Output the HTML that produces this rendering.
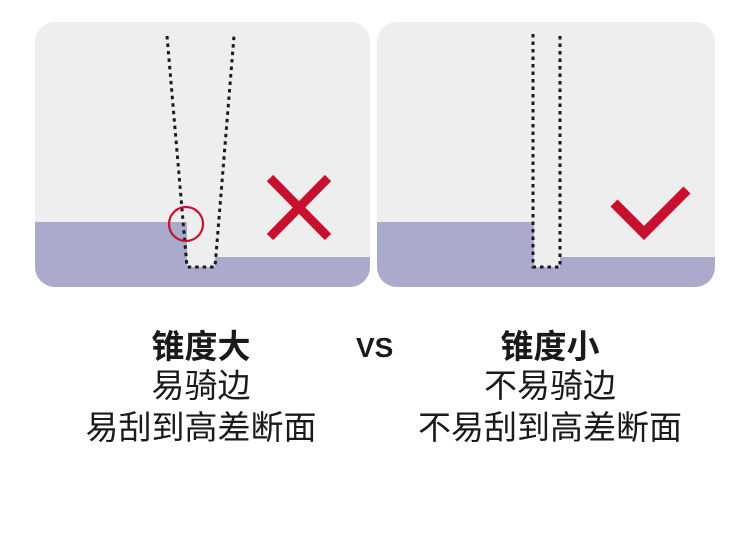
<!DOCTYPE html>
<html><head><meta charset="utf-8"><style>
body{margin:0;width:750px;height:540px;background:#fff;overflow:hidden;position:relative;font-family:"Liberation Sans","Noto Sans CJK SC",sans-serif;color:#1a1a1a}
.t{position:absolute;width:400px;text-align:center;font-size:33px;line-height:40px}
</style></head><body>
<svg width="750" height="300" style="position:absolute;left:0;top:0">
<defs>
<clipPath id="c1"><rect x="35" y="22" width="335" height="265" rx="20"/></clipPath>
<clipPath id="c2"><rect x="377" y="22" width="338" height="265" rx="20"/></clipPath>
</defs>
<g clip-path="url(#c1)">
<rect x="35" y="22" width="335" height="265" fill="#eeeeee"/>
<rect x="35" y="222" width="153" height="70" fill="#aaaacd"/>
<rect x="188" y="257" width="190" height="40" fill="#aaaacd"/>
<polygon points="187,222 215,222 215,267 187,267" fill="#eeeeee"/>
</g>
<polyline points="167,36 187,267 215,267 234,36" fill="none" stroke="#1a1a1a" stroke-width="3" stroke-dasharray="3.5,4"/>
<circle cx="186" cy="224" r="17" fill="none" stroke="#c8102e" stroke-width="2.2"/>
<path d="M270,178 L328,237 M328,178 L270,237" stroke="#c8102e" stroke-width="9"/>
<g clip-path="url(#c2)">
<rect x="377" y="22" width="338" height="265" fill="#eeeeee"/>
<rect x="377" y="222" width="157" height="70" fill="#aaaacd"/>
<rect x="534" y="257" width="190" height="40" fill="#aaaacd"/>
<rect x="534" y="222" width="26" height="45" fill="#eeeeee"/>
</g>
<polyline points="533,34 533,267 560,267 560,34" fill="none" stroke="#1a1a1a" stroke-width="3" stroke-dasharray="3.5,4"/>
<polyline points="614,203 644,233 687,190" fill="none" stroke="#c8102e" stroke-width="10"/>
</svg>
<div class="t" style="left:1px;top:327px;font-weight:bold">锥度大</div>
<div class="t" style="left:1px;top:366px">易骑边</div>
<div class="t" style="left:1px;top:408px">易刮到高差断面</div>
<div class="t" style="left:350px;top:327px;font-weight:bold">锥度小</div>
<div class="t" style="left:350px;top:366px">不易骑边</div>
<div class="t" style="left:350px;top:408px">不易刮到高差断面</div>
<div style="position:absolute;left:356px;top:333px;font-size:28px;font-weight:bold;line-height:30px">VS</div>
</body></html>
